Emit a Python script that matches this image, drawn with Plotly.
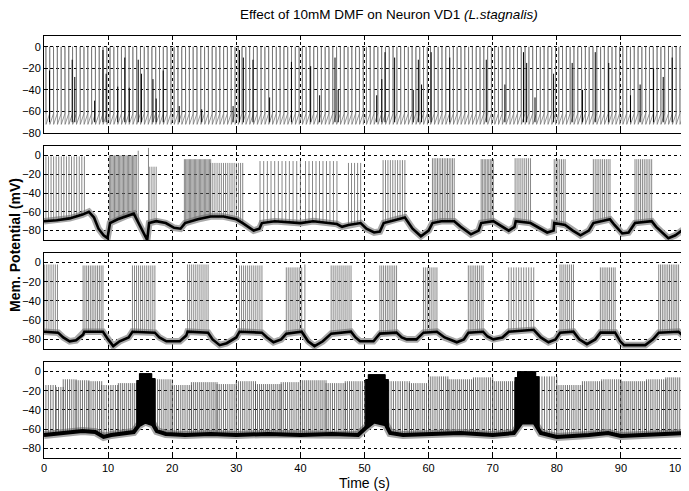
import numpy as np
import plotly.graph_objects as go

# ---------------- data ----------------
time_ticks = [0, 10, 20, 30, 40, 50, 60, 70, 80, 90, 100]
time_tick_labels = ["0", "10", "20", "30", "40", "50", "60", "70", "80", "90", ""]
last_time_label = "100"
mv_ticks = [0, -20, -40, -60, -80]

# Panel 1: tonic firing. Spike groups (start s, end s, spike count, peak mV)
p1_groups = [(0.3, 9.8, 17, 0), (10.3, 19.8, 17, 0), (20.3, 29.8, 17, 0),
             (30.3, 39.8, 17, 0), (40.3, 49.8, 17, 0), (50.3, 59.8, 17, 0),
             (60.3, 69.8, 17, 0), (70.3, 79.8, 17, 0), (80.3, 89.8, 17, 0),
             (90.3, 99.8, 17, 0)]
p1_threshold = -62
p1_ahp = -72
# darker partial-height spikes visible in panel 1 (time s, peak mV)
p1_short_t = [0.86, 4.4, 4.8, 7.9, 9.2, 9.7, 11.5, 12.6, 13.3, 14.7, 15.2, 17.0, 17.5,
              18.6, 21.1, 24.6, 29.5, 30.5, 31.1, 32.6, 35.2, 38.6, 41.6, 43.0, 45.4,
              45.9, 51.9, 52.7, 53.2, 54.7, 57.6, 58.4, 58.9, 60.4, 63.3, 69.0, 71.9,
              74.8, 75.3, 76.6, 79.5, 82.4, 84.0, 86.0, 88.1, 91.5, 93.0, 95.1, 96.6, 98.0]
p1_short_v = [-22, -12, -28, -50, -3, -25, -37, -10, -38, -12, -25, -30, -48,
              -22, -55, -58, -55, -3, -10, -12, -47, -14, -18, -45, -10,
              -40, -45, -30, -5, -10, -40, -12, -35, -5, -10, -12, -35,
              -5, -15, -47, -25, -15, -40, -5, -15, -45, -35, -20, -28, -10]

# Panel 2: baseline (s, mV) and bursts
p2_base_t = [0, 2, 4, 6, 7, 7.8, 8.5, 9.3, 9.9, 10.3, 11.5, 13, 14, 14.6, 15.5, 16.1, 16.4,
             17.5, 19, 20.3, 21.3, 22, 24, 26, 28, 30, 31, 32.7, 33.6, 34, 36, 38, 40, 42,
             44, 45.7, 46.5, 47.5, 49.4, 50.3, 51.5, 52.4, 53, 55, 56.3, 57.5, 58.8, 60,
             60.6, 62, 64, 65, 66.6, 67.8, 68.2, 70.1, 71, 72.5, 73.4, 73.6, 75.9, 77,
             78.5, 79.5, 79.6, 81.3, 82.5, 83.7, 85, 85.7, 88.3, 89, 90.2, 91.2, 92.2,
             94.8, 95.5, 97.4, 98.5, 99.5, 100]
p2_base_v = [-70, -69, -67, -63, -60, -66, -78, -85, -88, -72, -68, -64, -62, -70, -82, -90, -72,
             -70, -72, -77, -78, -72, -68, -65, -65, -68, -72, -80, -78, -72, -70, -71, -72, -70,
             -72, -73, -76, -74, -72, -78, -82, -81, -72, -68, -66, -78, -86, -80,
             -72, -70, -70, -76, -84, -80, -72, -70, -74, -80, -76, -70, -72, -76,
             -82, -80, -72, -74, -80, -85, -80, -72, -68, -74, -83, -82, -72,
             -70, -76, -88, -85, -80, -78]
p2_bursts = [(0.3, 6.3, 16, -1), (10.2, 14.4, 22, 0), (14.7, 14.7, 1, 5), (16.3, 16.3, 1, 8),
             (16.5, 17.5, 4, -12), (21.9, 26.0, 22, -4), (26.0, 31.0, 16, -8),
             (33.7, 40.0, 12, -6), (40.8, 45.7, 10, -6), (47.5, 49.4, 5, -8),
             (52.9, 56.3, 10, -5), (60.6, 64.0, 14, -3), (68.2, 70.1, 9, -4),
             (73.5, 75.9, 9, -3), (79.6, 81.3, 7, -4), (85.7, 88.3, 10, -4),
             (92.2, 94.8, 10, -4), (99.8, 99.8, 1, -20)]

# Panel 3
p3_base_t = [0, 2.2, 3, 4, 5, 6.1, 6.3, 9.2, 10, 10.8, 11.8, 13.2, 13.8, 17.3, 18, 19.1, 21.2,
             22.2, 22.4, 25.6, 26.3, 27.4, 28.5, 30, 30.5, 34, 34.8, 35.8, 37, 37.8, 40.2,
             41.2, 42.2, 43.5, 44.8, 47.9, 48.6, 49.3, 51.4, 52.4, 55, 55.8, 56.6, 58.1,
             59.2, 61.3, 62.5, 64.4, 65.5, 66.2, 68.5, 69.2, 70.1, 71.5, 72.5, 76.4, 77.5,
             78.7, 79.8, 80.5, 82.6, 83.5, 84.7, 86, 86.8, 89.1, 89.9, 90.5, 93.8, 95,
             95.9, 99, 100]
p3_base_v = [-72, -73, -78, -82, -81, -75, -72, -72, -80, -87, -82, -78, -72, -73, -78, -82, -82,
             -76, -72, -73, -80, -86, -84, -78, -72, -73, -78, -83, -80, -74, -72,
             -82, -87, -82, -74, -72, -78, -82, -82, -74, -73, -78, -80, -80,
             -73, -72, -78, -83, -80, -73, -72, -77, -80, -78, -72, -70, -78,
             -83, -80, -73, -72, -80, -85, -80, -73, -73, -82, -86, -86, -80,
             -73, -72, -78]
p3_bursts = [(0.1, 2.1, 7, -2), (6.1, 9.2, 12, -3), (13.8, 17.3, 12, -3), (22.4, 25.6, 11, -2),
             (30.5, 34.0, 12, -3), (37.8, 40.2, 9, -5), (40.7, 40.7, 1, -2),
             (44.8, 47.9, 11, -3), (52.4, 55.0, 10, -3), (59.2, 61.3, 8, -5),
             (66.2, 68.5, 9, -3), (72.5, 76.4, 11, -5), (80.5, 82.6, 8, -2),
             (86.8, 89.1, 9, -5), (95.9, 99.0, 12, -2)]

# Panel 4
p4_base_t = [0, 3, 6, 8, 9.3, 10.5, 12, 14, 14.8, 15.8, 17, 17.6, 19, 22, 26, 30, 35, 40, 45,
             49, 50.3, 51.5, 53.3, 54, 56, 60, 65, 70, 73.3, 74.5, 76.5, 77.5, 80, 85, 88,
             90, 95, 100]
p4_base_v = [-66, -64, -62, -63, -68, -66, -65, -63, -56, -52, -55, -62, -65, -66, -65, -66, -65,
             -66, -65, -66, -58, -52, -55, -64, -66, -65, -64, -66, -64, -53, -53, -64, -68,
             -66, -64, -67, -66, -64]
p4_spiking = [(0.3, 1.8, 5, -14), (1.9, 3.0, 4, -16), (3.0, 5.0, 7, -8), (5.0, 7.0, 7, -9),
              (7.0, 9.0, 7, -10), (9.0, 11.5, 8, -14), (11.6, 14.4, 10, -12),
              (17.4, 20.0, 9, -8), (20.0, 23.0, 10, -14), (23.0, 27.0, 14, -11),
              (27.0, 30.0, 10, -13), (30.0, 33.0, 10, -10), (33.0, 37.0, 14, -13),
              (37.0, 40.0, 10, -11), (40.0, 44.0, 14, -9), (44.0, 47.0, 10, -12),
              (47.0, 50.0, 10, -10), (53.8, 57.0, 10, -10), (57.0, 60.0, 10, -12),
              (60.0, 63.0, 10, -5), (63.0, 67.0, 14, -8), (67.0, 70.0, 10, -6),
              (70.0, 73.4, 12, -10), (77.3, 80.0, 8, -5), (80.0, 84.0, 13, -14),
              (84.0, 87.0, 10, -10), (87.0, 90.0, 10, -8), (90.0, 94.0, 14, -10),
              (94.0, 97.0, 10, -8), (97.0, 99.8, 10, -6)]
p4_dense = [(14.5, 14.9, 10, -9), (14.9, 16.8, 48, -2), (16.8, 17.3, 12, -7),
            (50.2, 50.6, 10, -8), (50.6, 53.2, 66, -3), (53.2, 53.7, 12, -8),
            (73.5, 73.9, 10, -6), (73.9, 76.7, 70, 0), (76.7, 77.2, 12, -5)]


# ---------------- helpers ----------------
def spikes_xy(groups, base_t, base_v):
    xs, ys = [], []
    for a, b, n, pk in groups:
        ts = np.linspace(a, b, n) if n > 1 else [a]
        for t in ts:
            v0 = float(np.interp(t, base_t, base_v))
            xs += [t, t, None]
            ys += [v0, pk, None]
    return xs, ys


def tonic_xy(groups, thr, ahp):
    xs, ys = [], []
    for a, b, n, pk in groups:
        for t in np.linspace(a, b, n):
            xs += [t - 0.005, t, t + 0.02]
            ys += [thr, pk, ahp]
    return xs, ys


fig = go.Figure()

# panel 1
x1, y1 = tonic_xy(p1_groups, p1_threshold, p1_ahp)
fig.add_trace(go.Scatter(x=x1, y=y1, mode="lines", line=dict(color="#6a6a6a", width=0.7),
                         xaxis="x", yaxis="y", hoverinfo="skip"))
sx, sy = [], []
for t, v in zip(p1_short_t, p1_short_v):
    sx += [t, t, None]
    sy += [p1_ahp + 2, v, None]
fig.add_trace(go.Scatter(x=sx, y=sy, mode="lines", line=dict(color="black", width=1),
                         xaxis="x", yaxis="y", hoverinfo="skip"))

# panels 2-4
panels = [
    ("x2", "y2", p2_base_t, p2_base_v, p2_bursts, None, 2.6, "#6a6a6a"),
    ("x3", "y3", p3_base_t, p3_base_v, p3_bursts, None, 2.6, "#6a6a6a"),
    ("x4", "y4", p4_base_t, p4_base_v, p4_spiking, p4_dense, 4.0, "#505050"),
]
for xa, ya, bt, bv, grp, dense, bw, sc in panels:
    # grey fuzz of the noisy resting trace
    fig.add_trace(go.Scatter(x=bt, y=bv, mode="lines",
                             line=dict(color="#a8a8a8", width=bw + 4),
                             xaxis=xa, yaxis=ya, hoverinfo="skip"))
    xs, ys = spikes_xy(grp, bt, bv)
    fig.add_trace(go.Scatter(x=xs, y=ys, mode="lines", line=dict(color=sc, width=0.8),
                             xaxis=xa, yaxis=ya, hoverinfo="skip"))
    if dense:
        dx, dy = spikes_xy(dense, bt, bv)
        fig.add_trace(go.Scatter(x=dx, y=dy, mode="lines", line=dict(color="black", width=1.2),
                                 xaxis=xa, yaxis=ya, hoverinfo="skip"))
    fig.add_trace(go.Scatter(x=bt, y=bv, mode="lines", line=dict(color="black", width=bw),
                             xaxis=xa, yaxis=ya, hoverinfo="skip"))

tick_font = dict(family="Liberation Sans, Arial, sans-serif", size=11, color="black")
common_x = dict(range=[0, 100], tickvals=time_ticks, ticktext=time_tick_labels,
                showgrid=True, gridcolor="black", griddash="dot", gridwidth=1,
                showline=True, linecolor="black", linewidth=1, mirror="ticks",
                ticks="inside", ticklen=4, tickcolor="black", zeroline=False,
                tickfont=tick_font, automargin=False)
common_y = dict(tickvals=mv_ticks, showgrid=True, gridcolor="black", griddash="dot",
                gridwidth=1, showline=True, linecolor="black", linewidth=1, mirror="ticks",
                ticks="inside", ticklen=4, tickcolor="black", zeroline=False,
                tickfont=tick_font, automargin=False)

domains = [[0.7701, 1.0], [0.5166, 0.7393], [0.2583, 0.4858], [0.0, 0.2275]]
yranges = [[-80, 10], [-90, 10], [-90, 10], [-90, 10]]

# the page body adds 8px, so the figure is 8px smaller than the window
layout = dict(
    width=681, height=483,
    margin=dict(l=36, r=4, t=28, b=33, autoexpand=False),
    paper_bgcolor="white", plot_bgcolor="white",
    showlegend=False,
    font=dict(family="Liberation Sans, Arial, sans-serif", color="black"),
)
for i in range(4):
    xn = "xaxis" if i == 0 else f"xaxis{i + 1}"
    yn = "yaxis" if i == 0 else f"yaxis{i + 1}"
    xa = dict(common_x)
    xa["anchor"] = "y" if i == 0 else f"y{i + 1}"
    xa["showticklabels"] = (i == 3)
    layout[xn] = xa
    ya = dict(common_y)
    ya["anchor"] = "x" if i == 0 else f"x{i + 1}"
    ya["domain"] = domains[i]
    ya["range"] = yranges[i]
    layout[yn] = ya

fig.update_layout(**layout)

# last time tick label, kept inside the page at the right edge
fig.add_annotation(text=last_time_label, xref="x4", yref="paper", x=100, y=0, yshift=-10,
                   xanchor="right", yanchor="middle", xshift=4, showarrow=False,
                   font=tick_font)
fig.add_annotation(text="Effect of 10mM DMF on Neuron VD1 <i>(L.stagnalis)</i>",
                   xref="paper", yref="paper", x=0.539, y=1.0, yshift=22,
                   xanchor="center", yanchor="middle",
                   showarrow=False, font=dict(size=13.5, color="black",
                                               family="Liberation Sans, Arial, sans-serif"))
fig.add_annotation(text="Time (s)", xref="paper", yref="paper", x=0.5, y=0, yshift=-25,
                   xanchor="center", yanchor="middle",
                   showarrow=False, font=dict(size=14, color="black",
                                               family="Liberation Sans, Arial, sans-serif"))
fig.add_annotation(text="<b>Mem. Potential (mV)</b>", xref="paper", yref="paper",
                   x=0, xshift=-29, y=0.505, textangle=-90, showarrow=False,
                   xanchor="center", yanchor="middle",
                   font=dict(size=14, color="black",
                             family="Liberation Sans, Arial, sans-serif"))

fig.write_html("out.html")
